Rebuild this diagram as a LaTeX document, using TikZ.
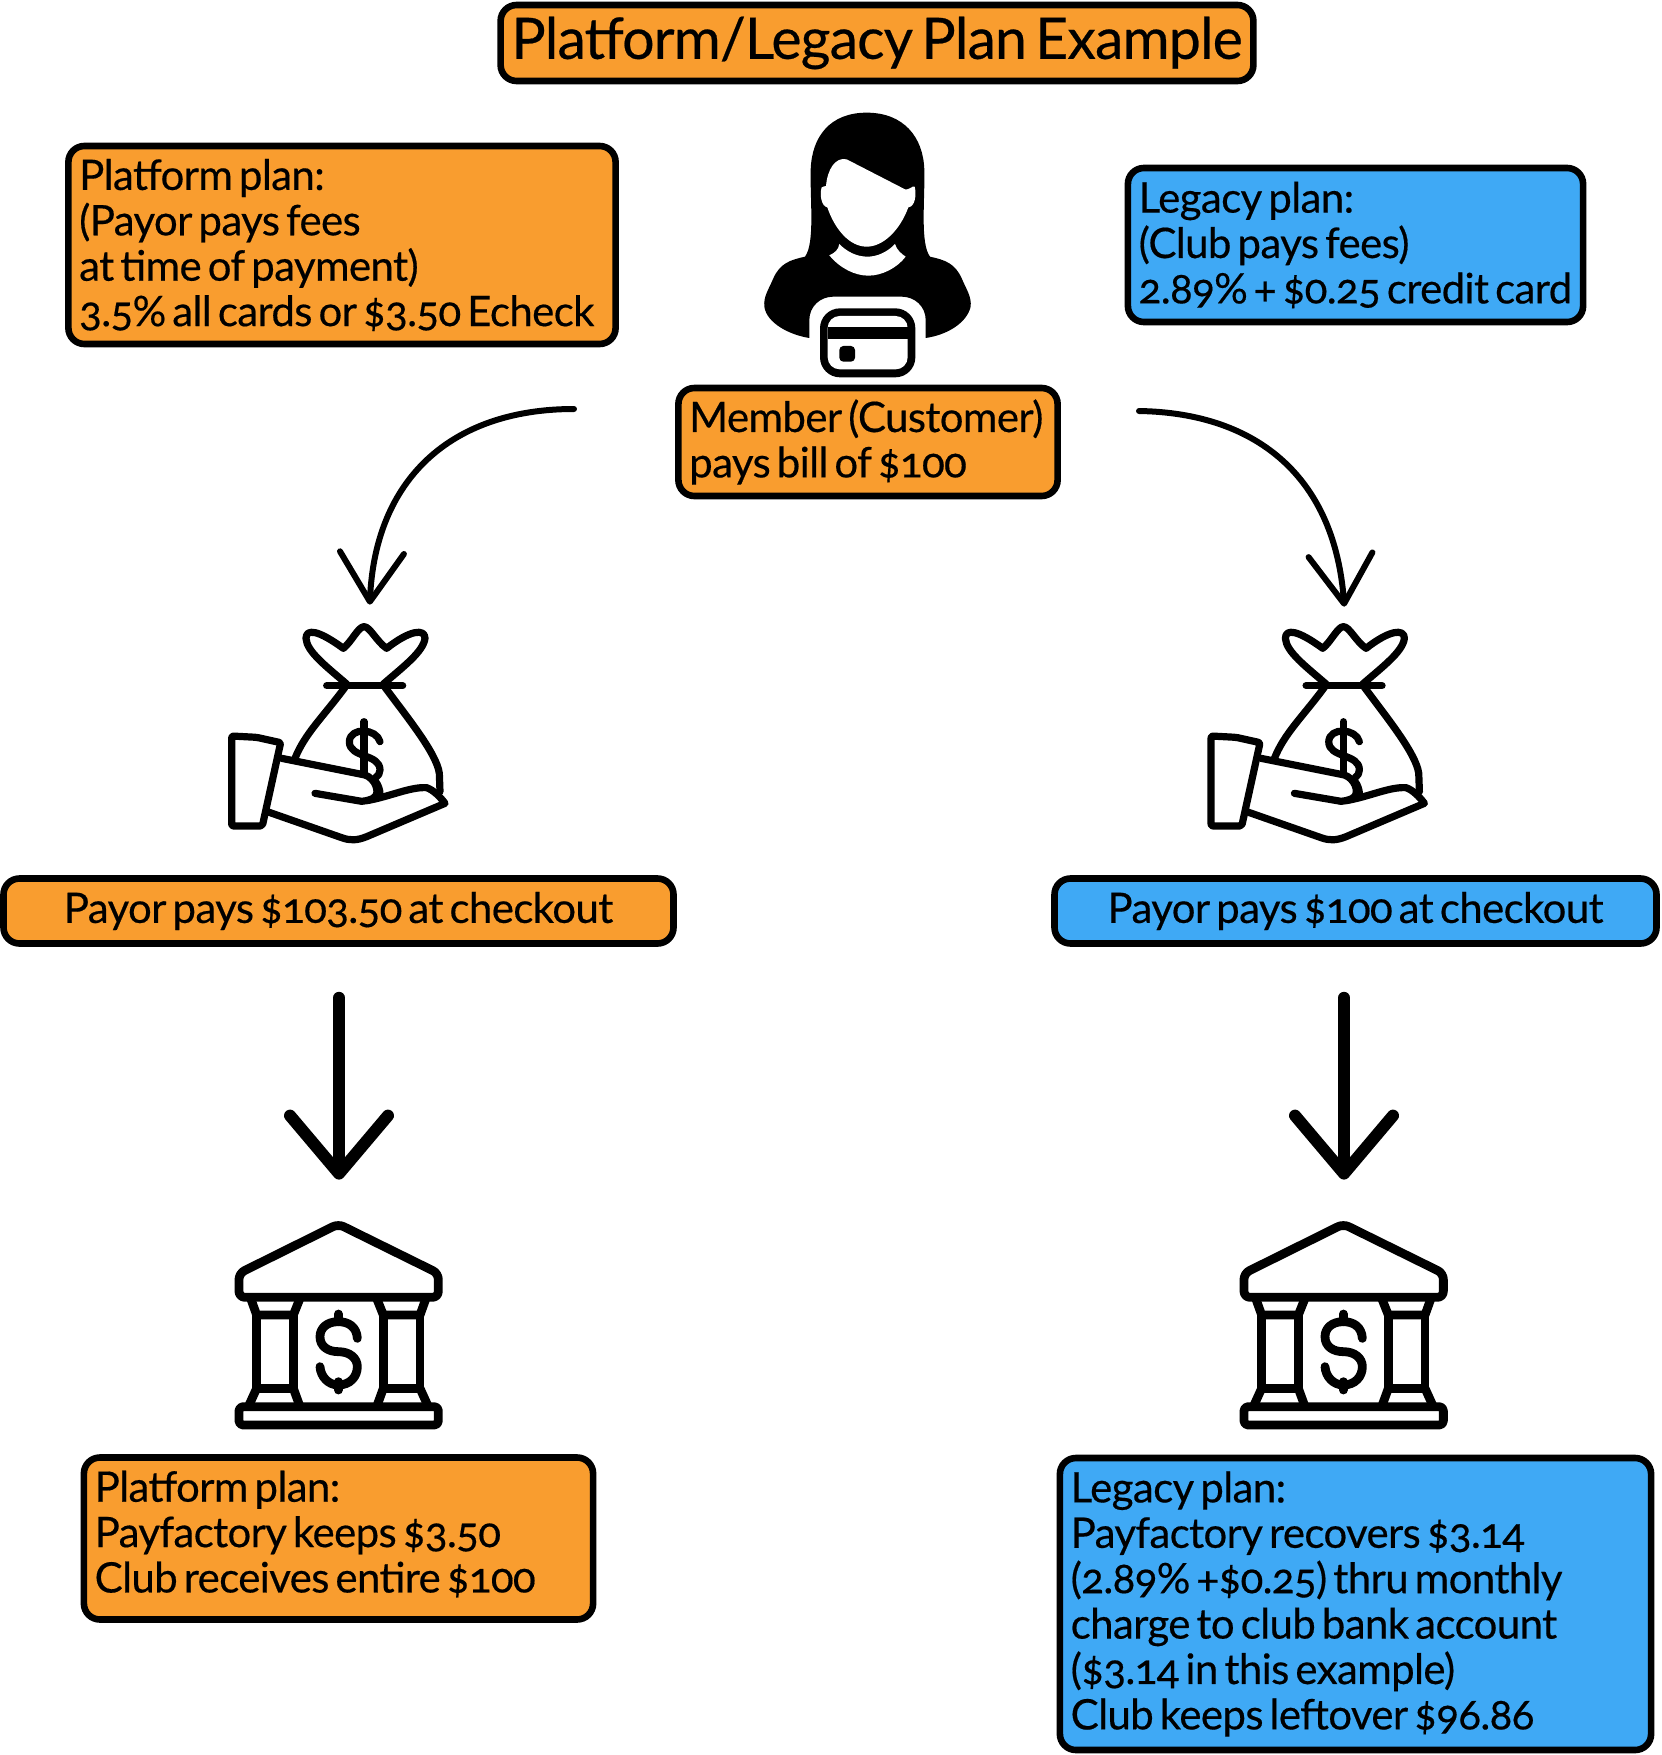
\documentclass[tikz,border=0pt]{standalone}
\usepackage{fontspec}
\setmainfont[Numbers=OldStyle,WordSpace=0.6,LetterSpace=-1.5,FakeBold=0.4]{Lato}
\usetikzlibrary{arrows.meta}
\definecolor{planorange}{HTML}{F99D2F}
\definecolor{planblue}{HTML}{3FA9F5}

\tikzset{
  bag/.pic={
    \begin{scope}[scale=1/3,line width=3.6pt,line cap=round,line join=round]
      % knot
      \draw (410,222) .. controls (350,170) and (290,125) .. (288,85) .. controls (288,55) and (325,60) .. (400,115)
        .. controls (425,95) and (445,50) .. (462,50) .. controls (480,50) and (500,95) .. (530,115)
        .. controls (600,60) and (645,55) .. (645,85) .. controls (640,125) and (580,170) .. (520,222);
      \draw (350,227) -- (578,227);
      % sack
      \draw (405,232) .. controls (340,320) and (285,370) .. (255,445);
      \draw (525,232) .. controls (590,320) and (680,430) .. (688,490) -- (690,545);
      % dollar
      \draw (462,335) -- (462,490);
      \draw (510,395) .. controls (500,355) and (420,350) .. (418,395) .. controls (418,445) and (510,430) .. (510,480)
        .. controls (510,490) and (505,497) .. (497,503);
      \draw (497,515) .. controls (505,525) and (510,540) .. (510,553);
      % hand
      \draw[rounded corners=1pt] (65,378) -- (140,382) -- (212,398) -- (157,648) -- (65,648) -- cycle;
      \draw (215,445) -- (465,495) .. controls (495,505) and (510,545) .. (495,560) .. controls (485,570) and (470,572) .. (455,574)
        -- (315,550);
      \draw (470,572) .. controls (540,560) and (600,530) .. (650,533) .. controls (670,540) and (690,560) .. (705,580)
        -- (470,680) .. controls (440,692) and (420,692) .. (395,683) -- (172,605);
    \end{scope}},
  bank/.pic={
    \begin{scope}[scale=1/3,line width=4.4pt,line cap=round,line join=round]
      % roof
      \draw[rounded corners=3pt] (355,42) -- (57,190) -- (57,262) -- (655,262) -- (655,190) -- cycle;
      % columns
      \foreach \m in {0,1}{
        \begin{scope}[shift={(\m*710,0)},xscale=1-2*\m]
          \draw (92,265) -- (110,315) -- (220,315) -- (240,265);
          \draw (110,315) -- (110,535) -- (220,535) -- (220,315);
          \draw (110,535) -- (85,590);
          \draw (220,535) -- (240,590);
        \end{scope}}
      \draw[rounded corners=2pt] (57,590) rectangle (655,645);
      % dollar
      \draw (355,312) -- (355,335);
      \draw (355,515) -- (355,540);
      \draw (412,385) .. controls (410,350) and (385,335) .. (355,335) .. controls (320,335) and (300,355) .. (300,380)
        .. controls (300,410) and (325,425) .. (355,425) .. controls (390,425) and (412,445) .. (412,470)
        .. controls (412,500) and (390,525) .. (355,525) .. controls (325,525) and (302,500) .. (300,470);
    \end{scope}},
  member/.pic={
    \begin{scope}[scale=1/3]
      % hair and shoulders
      \fill (380,38) .. controls (270,38) and (215,110) .. (212,210) .. controls (210,300) and (225,430) .. (195,470)
        .. controls (150,480) and (120,490) .. (100,535) .. controls (85,570) and (70,590) .. (73,620)
        .. controls (80,670) and (150,705) .. (208,714) -- (208,660) .. controls (208,620) and (240,590) .. (280,590)
        -- (485,590) .. controls (525,590) and (557,620) .. (557,660) -- (557,714) .. controls (620,705) and (680,670) .. (692,620)
        .. controls (695,590) and (680,570) .. (665,535) .. controls (645,490) and (615,480) .. (570,470)
        .. controls (540,430) and (555,300) .. (553,210) .. controls (550,110) and (490,38) .. (380,38) -- cycle;
      % face
      \fill[white] (320,178) -- (495,268) .. controls (505,272) and (520,255) .. (524,260) .. controls (530,285) and (525,320) .. (505,322)
        .. controls (480,390) and (430,440) .. (380,440) .. controls (330,440) and (285,390) .. (262,322)
        .. controls (245,320) and (238,285) .. (245,262) .. controls (250,256) and (255,262) .. (258,258)
        .. controls (262,210) and (285,170) .. (320,178) -- cycle;
      % collar
      \fill[white] (298,432) .. controls (295,450) and (285,458) .. (268,466) .. controls (300,505) and (345,527) .. (385,527)
        .. controls (425,527) and (470,505) .. (497,470) .. controls (485,462) and (470,450) .. (465,432)
        .. controls (440,458) and (410,470) .. (382,470) .. controls (350,470) and (320,455) .. (298,432) -- cycle;
      % card
      \fill[rounded corners=10pt] (240,625) rectangle (526,832);
      \fill[white,rounded corners=6pt] (263,648) rectangle (503,808);
      \fill (263,682) rectangle (503,718);
      \fill[rounded corners=2pt] (298,738) rectangle (345,785);
    \end{scope}}
}

\begin{document}
\begin{tikzpicture}[x=0.5pt,y=-0.5pt,font=\fontsize{21}{22.7}\selectfont,
  plan/.style={draw=black,line width=3.3pt,rounded corners=8pt,inner xsep=5.4pt,inner ysep=0pt,align=flush left},
  orangeplan/.style={plan,fill=planorange},
  blueplan/.style={plan,fill=planblue},
  spot/.style={inner sep=0pt,minimum size=0pt},
  thin arc/.style={line width=3pt,line cap=round,line join=round,-{Straight Barb[length=24.5pt,width=32pt,round]}},
  fat arrow/.style={line width=6pt,line cap=round,line join=round,-{Straight Barb[length=29pt,width=49pt,round]},shorten <=25.5pt,shorten >=21pt}]

  \useasboundingbox (0,0) rectangle (1661,1755);

  % title
  \node[orangeplan,font=\fontsize{28.6}{30}\selectfont,minimum width=375.5pt,minimum height=38pt,align=center] (title) at (877,43)
    {\raisebox{-1.1pt}{Platform/Legacy Plan Example}};

  % fee boxes
  \node[orangeplan,text width=262.8pt,minimum height=99pt] (feesL) at (342,245)
    {Platform plan:\\(Payor pays fees\\at time of payment)\\3.5\% all cards or \$3.50 Echeck};
  \node[blueplan,text width=216.8pt,minimum height=77pt] (feesR) at (1355.5,245)
    {Legacy plan:\\(Club pays fees)\\2.89\% + \$0.25 credit card};

  % member
  \pic at (740,100) {member};
  \node[orangeplan,text width=178.8pt,minimum height=54pt] (payer) at (868,442)
    {Member (Customer)\\pays bill of \$100};
  \coordinate (curveL) at (574,409);
  \coordinate (curveR) at (1139,411);

  % money bags
  \node[spot] (bagL) at (369,623) {};
  \node[spot] (bagR) at (1345.5,623) {};
  \pic at (210,610) {bag};
  \pic at (1189.4,610) {bag};

  % payor boxes
  \node[orangeplan,minimum width=335pt,minimum height=32.5pt,align=center] (payL) at (338.5,911)
    {Payor pays \$103.50 at checkout};
  \node[blueplan,minimum width=301pt,minimum height=32.5pt,align=center] (payR) at (1355.5,911)
    {Payor pays \$100 at checkout};

  % banks
  \node[spot] (bankL) at (339,1222) {};
  \node[spot] (bankR) at (1344,1222) {};
  \pic at (220,1210) {bank};
  \pic at (1225,1210) {bank};

  % result boxes
  \node[orangeplan,text width=243.8pt,minimum height=81pt] (keepL) at (338.5,1538.5)
    {Platform plan:\\Payfactory keeps \$3.50\\Club receives entire \$100\rule[-6.9pt]{0pt}{6.9pt}};
  \node[blueplan,text width=284.8pt,minimum height=146pt] (keepR) at (1355.5,1604)
    {Legacy plan:\\Payfactory recovers \$3.14\\(2.89\% +\$0.25) thru monthly\\charge to club bank account\\(\$3.14 in this example)\\Club keeps leftover \$96.86};

  \draw[thin arc,shorten >=9pt] (curveL) .. controls (450,409) and (375,480) .. (bagL);
  \draw[thin arc,shorten >=8pt] (curveR) .. controls (1260,413) and (1335,480) .. (bagR);
  \draw[fat arrow] (payL.south -| bankL) -- (bankL);
  \draw[fat arrow] (payR.south -| bankR) -- (bankR);
\end{tikzpicture}
\end{document}
